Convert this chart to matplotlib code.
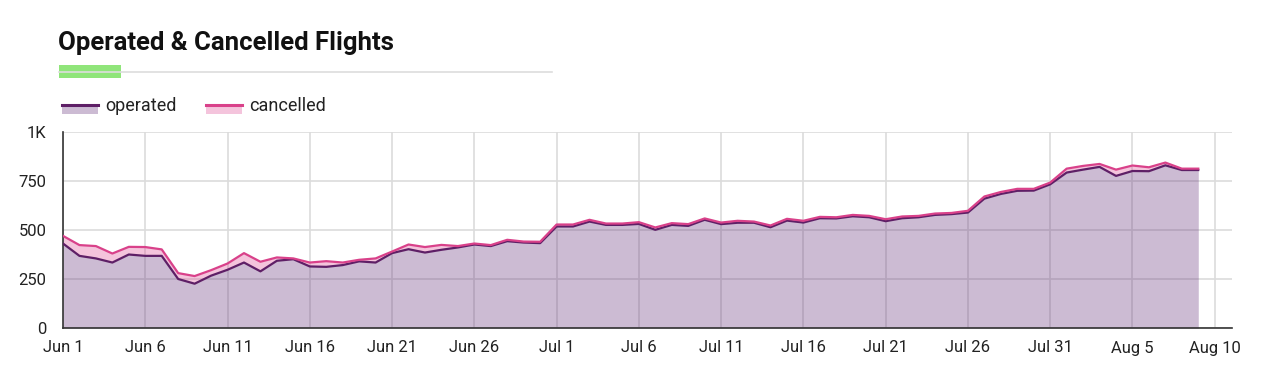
import numpy as np
import pandas as pd
import matplotlib.pyplot as plt
from matplotlib.patches import Rectangle
from matplotlib.lines import Line2D

# Daily flight counts, Jun 1 .. Aug 9
start_date = '2022-06-01'
operated = [431, 368, 355, 334, 375, 368, 368, 250, 226, 267,
            297, 334, 289, 343, 351, 314, 312, 321, 340, 334,
            382, 402, 385, 399, 411, 426, 418, 443, 436, 433,
            518, 518, 543, 526, 526, 531, 501, 526, 521, 552,
            530, 537, 537, 514, 548, 538, 560, 559, 570, 565,
            545, 560, 565, 577, 581, 589, 660, 684, 700, 701,
            733, 793, 808, 822, 776, 801, 800, 830, 806, 806]
cancelled = [39, 55, 63, 46, 39, 45, 33, 30, 39, 28,
             32, 48, 49, 17, 4, 20, 29, 13, 8, 21,
             8, 24, 28, 25, 7, 5, 5, 7, 5, 7,
             10, 10, 9, 7, 7, 9, 12, 9, 9, 7,
             8, 10, 6, 9, 9, 9, 7, 6, 7, 7,
             10, 9, 7, 7, 6, 9, 11, 10, 10, 9,
             9, 20, 19, 15, 32, 28, 20, 14, 7, 7]
y_ticks = [0, 250, 500, 750, 1000]
y_labels = ['0', '250', '500', '750', '1K']

dates = pd.date_range(start_date, periods=len(operated), freq='D')
operated = np.array(operated)
total = operated + np.array(cancelled)

plt.rcParams['font.family'] = ['Roboto', 'DejaVu Sans']

W, H = 1268, 384
fig = plt.figure(figsize=(W / 100, H / 100), dpi=100)
ax = fig.add_axes([63 / W, 1 - 328 / H, (1232 - 63) / W, (328 - 132) / H])

purple = '#6E3C82'
purple_line = '#5E1F66'
pink = '#DC3C8C'
pink_line = '#D9418A'

ax.fill_between(dates, 0, operated, color=purple, alpha=0.35, linewidth=0, zorder=2)
ax.fill_between(dates, operated, total, color=pink, alpha=0.3, linewidth=0, zorder=2)
ax.plot(dates, operated, color=purple_line, linewidth=1.6, zorder=3)
ax.plot(dates, total, color=pink_line, linewidth=1.6, zorder=4)

# Axes ranges and ticks
x0 = dates[0]
ax.set_xlim(x0, x0 + pd.Timedelta(days=71.05))
ax.set_ylim(0, 1000)
tick_dates = pd.date_range(start_date, periods=15, freq='5D')
ax.set_xticks(tick_dates)
ax.set_xticklabels([f'{d.strftime("%b")} {d.day}' for d in tick_dates])
ax.set_yticks(y_ticks)
ax.set_yticklabels(y_labels)
ax.tick_params(length=0, labelsize=12, colors='#222222')
ax.tick_params(axis='x', pad=9)
ax.tick_params(axis='y', pad=12)

ax.grid(True, color='#DCDCDC', linewidth=1.2, zorder=1)
ax.set_axisbelow(True)
for side in ['top', 'right']:
    ax.spines[side].set_visible(False)
ax.spines['left'].set_color('#333333')
ax.spines['bottom'].set_color('#333333')
ax.spines['left'].set_linewidth(1.2)
ax.spines['bottom'].set_linewidth(1.2)

# Title with accent bar
fig.text(58 / W, 1 - 43 / H, 'Operated & Cancelled Flights', fontsize=18.5,
         fontweight='bold', va='center', ha='left', color='#111111')
fig.add_artist(Line2D([59 / W, 552 / W], [1 - 72 / H, 1 - 72 / H],
                      color='#DDDDDD', linewidth=1.2))
fig.add_artist(Rectangle((59 / W, 1 - 78 / H), 62 / W, 13 / H,
                         color='#90E57A', linewidth=0))

# Legend drawn by hand
def legend_item(x, label, fill_col, line_col, alpha):
    fig.add_artist(Rectangle((x / W, 1 - 114 / H), 36 / W, 9 / H,
                             facecolor=fill_col, alpha=alpha, linewidth=0))
    fig.add_artist(Line2D([x / W, (x + 36) / W], [1 - 104.5 / H, 1 - 104.5 / H],
                          color=line_col, linewidth=2.2))
    fig.text((x + 43) / W, 1 - 106 / H, label, fontsize=13, va='center',
             ha='left', color='#222222')

legend_item(62, 'operated', purple, purple_line, 0.35)
legend_item(206, 'cancelled', pink, pink_line, 0.3)

fig.savefig('out.png', dpi=100)
